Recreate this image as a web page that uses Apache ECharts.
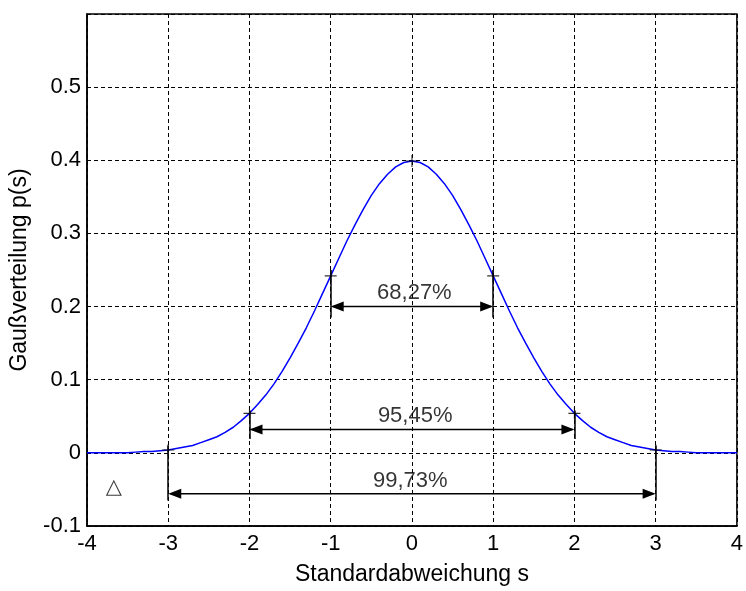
<!DOCTYPE html>
<html>
<head>
<meta charset="utf-8">
<script src="https://cdn.jsdelivr.net/npm/echarts@6.0.0/dist/echarts.min.js"></script>
<style>
html, body { margin: 0; padding: 0; background: #fff; }
#chart { width: 746px; height: 591px; }
</style>
</head>
<body>
<div id="chart"></div>
<script>
// ---- data ----
const sValues = [
  -4.0, -3.9, -3.8, -3.7, -3.6, -3.5, -3.4, -3.3, -3.2, -3.1,
  -3.0, -2.9, -2.8, -2.7, -2.6, -2.5, -2.4, -2.3, -2.2, -2.1,
  -2.0, -1.9, -1.8, -1.7, -1.6, -1.5, -1.4, -1.3, -1.2, -1.1,
  -1.0, -0.9, -0.8, -0.7, -0.6, -0.5, -0.4, -0.3, -0.2, -0.1,
   0.0,
   0.1,  0.2,  0.3,  0.4,  0.5,  0.6,  0.7,  0.8,  0.9,  1.0,
   1.1,  1.2,  1.3,  1.4,  1.5,  1.6,  1.7,  1.8,  1.9,  2.0,
   2.1,  2.2,  2.3,  2.4,  2.5,  2.6,  2.7,  2.8,  2.9,  3.0,
   3.1,  3.2,  3.3,  3.4,  3.5,  3.6,  3.7,  3.8,  3.9,  4.0
];
const pValues = [
  0.000, 0.000, 0.000, 0.000, 0.000, 0.000, 0.001, 0.002, 0.002, 0.003,
  0.004, 0.006, 0.008, 0.010, 0.014, 0.018, 0.022, 0.028, 0.035, 0.044,
  0.054, 0.066, 0.079, 0.094, 0.111, 0.130, 0.150, 0.171, 0.194, 0.218,
  0.242, 0.266, 0.290, 0.312, 0.333, 0.352, 0.368, 0.381, 0.391, 0.397,
  0.399,
  0.397, 0.391, 0.381, 0.368, 0.352, 0.333, 0.312, 0.290, 0.266, 0.242,
  0.218, 0.194, 0.171, 0.150, 0.130, 0.111, 0.094, 0.079, 0.066, 0.054,
  0.044, 0.035, 0.028, 0.022, 0.018, 0.014, 0.010, 0.008, 0.006, 0.004,
  0.003, 0.002, 0.002, 0.001, 0.000, 0.000, 0.000, 0.000, 0.000, 0.000
];
const markerS = [-3, -2, -1, 0, 1, 2, 3];
const markerP = [0.004, 0.054, 0.242, 0.399, 0.242, 0.054, 0.004];
// vertical bracket lines: [s, yTop, yBottom]
const bracketLines = [
  [-1, 0.250, 0.185], [1, 0.250, 0.185],
  [-2, 0.058, 0.019], [2, 0.058, 0.019],
  [-3, 0.010, -0.065], [3, 0.010, -0.065]
];
// double arrows: [sFrom, sTo, y]
const arrows = [
  [-1, 1, 0.200],
  [-2, 2, 0.032],
  [-3, 3, -0.056]
];
const percentTexts = ['68,27%', '95,45%', '99,73%'];
const percentS = [0.03, 0.04, -0.02];
const percentP = [0.219, 0.051, -0.038];
const deltaText = '△';
const deltaPos = [-3.67, -0.047];
const xTicks = [-4, -3, -2, -1, 0, 1, 2, 3, 4];
const yTickLabels = ['-0.1', '0', '0.1', '0.2', '0.3', '0.4', '0.5', ''];
const xTitle = 'Standardabweichung s';
const yTitle = 'Gaußverteilung p(s)';

// ---- chart ----
const FONT = 'Liberation Sans, Arial, sans-serif';
const chart = echarts.init(document.getElementById('chart'), null, { renderer: 'canvas' });

const curveData = sValues.map((s, i) => [s, pValues[i]]);
const markerData = markerS.map((s, i) => [s, markerP[i]]);
const bracketData = bracketLines.map(b => ({ coords: [[b[0], b[1]], [b[0], b[2]]] }));
const textData = percentTexts.map((t, i) => ({ name: t, value: [percentS[i], percentP[i]] }));

const HEAD_LEN = 13, HEAD_HALF = 5;
function renderArrow(params, api) {
  const a = api.coord([api.value(0), api.value(2)]);
  const b = api.coord([api.value(1), api.value(2)]);
  const y = a[1];
  return {
    type: 'group',
    children: [
      { type: 'line', shape: { x1: a[0] + 2, y1: y, x2: b[0] - 2, y2: y },
        style: { stroke: '#000', lineWidth: 1.5 } },
      { type: 'polygon', shape: { points: [[a[0], y], [a[0] + HEAD_LEN, y - HEAD_HALF], [a[0] + HEAD_LEN, y + HEAD_HALF]] },
        style: { fill: '#000' } },
      { type: 'polygon', shape: { points: [[b[0], y], [b[0] - HEAD_LEN, y - HEAD_HALF], [b[0] - HEAD_LEN, y + HEAD_HALF]] },
        style: { fill: '#000' } }
    ]
  };
}

const option = {
  animation: false,
  backgroundColor: '#fff',
  textStyle: { fontFamily: FONT },
  grid: {
    left: 85, right: 6, top: 14, bottom: 60,
    show: true, borderColor: '#000', borderWidth: 1.5, backgroundColor: 'transparent'
  },
  xAxis: {
    type: 'value', min: xTicks[0], max: xTicks[xTicks.length - 1], interval: 1,
    name: xTitle, nameLocation: 'middle', nameGap: 37,
    nameTextStyle: { fontSize: 23, color: '#000', fontFamily: FONT },
    axisLine: { show: true, onZero: false, lineStyle: { color: '#000', width: 1.5 } },
    axisTick: { show: false },
    axisLabel: { fontSize: 22, color: '#000', margin: 7, fontFamily: FONT,
      formatter: v => String(Math.round(v)) },
    splitLine: { show: true, lineStyle: { color: '#000', width: 1, type: [4, 3] } }
  },
  yAxis: {
    type: 'value', min: -0.1, max: 0.6, interval: 0.1,
    name: yTitle, nameLocation: 'middle', nameGap: 56,
    nameTextStyle: { fontSize: 23, color: '#000', fontFamily: FONT },
    axisLine: { show: true, onZero: false, lineStyle: { color: '#000', width: 1.5 } },
    axisTick: { show: false },
    axisLabel: { fontSize: 22, color: '#000', margin: 6, fontFamily: FONT,
      formatter: v => {
        const k = Math.round(v * 10) + 1;
        return yTickLabels[k] !== undefined ? yTickLabels[k] : '';
      } },
    splitLine: { show: true, lineStyle: { color: '#000', width: 1, type: [4, 3] } }
  },
  series: [
    {
      type: 'line', data: curveData, showSymbol: false, symbol: 'none',
      lineStyle: { color: '#0000ff', width: 1.5 }, z: 3
    },
    {
      type: 'lines', coordinateSystem: 'cartesian2d', data: bracketData,
      symbol: ['none', 'none'],
      lineStyle: { color: '#000', width: 1.5, opacity: 1, curveness: 0 }, z: 4
    },
    {
      type: 'custom', data: arrows, renderItem: renderArrow,
      encode: { x: [0, 1], y: 2 }, z: 4
    },
    {
      type: 'scatter', data: markerData,
      symbol: 'path://M0,5.45H12V6.55H0Z M5.45,0H6.55V12H5.45Z', symbolSize: 12,
      itemStyle: { color: '#000' }, z: 5
    },
    {
      type: 'scatter', data: textData, symbolSize: 1,
      itemStyle: { color: 'rgba(0,0,0,0)' },
      label: { show: true, position: 'inside', formatter: '{b}', fontSize: 22,
        color: '#000', fontFamily: FONT }, z: 6
    },
    {
      type: 'scatter', data: [{ name: deltaText, value: deltaPos }], symbolSize: 1,
      itemStyle: { color: 'rgba(0,0,0,0)' },
      label: { show: true, position: 'inside', formatter: '{b}', fontSize: 21,
        color: '#000', fontFamily: 'DejaVu Sans, sans-serif' }, z: 6
    }
  ]
};
chart.setOption(option);
</script>
</body>
</html>
